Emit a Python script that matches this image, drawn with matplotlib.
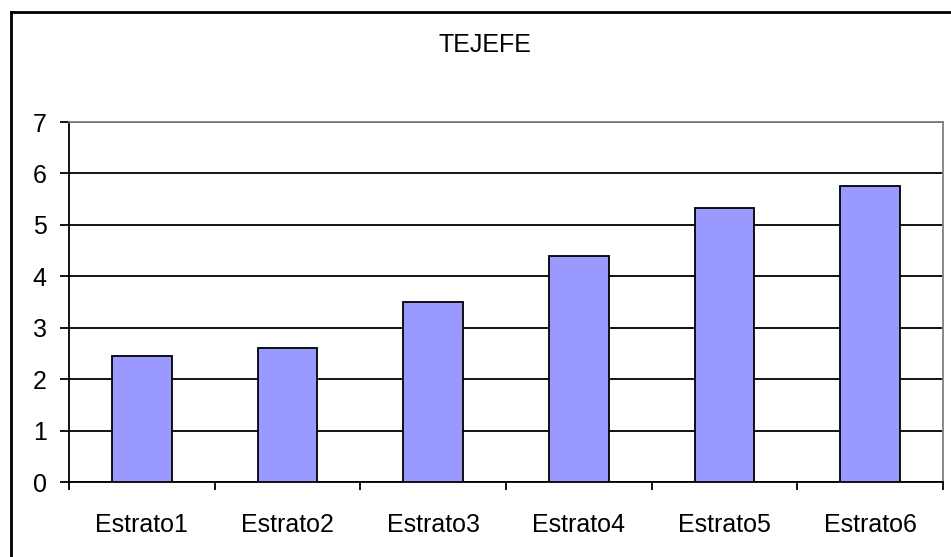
import matplotlib
matplotlib.use('Agg')
import matplotlib.pyplot as plt
from matplotlib.lines import Line2D
from matplotlib.ticker import FixedLocator, NullFormatter

# 데이터
categories = ["Estrato1", "Estrato2", "Estrato3", "Estrato4", "Estrato5", "Estrato6"]
values = [2.45, 2.60, 3.50, 4.40, 5.33, 5.76]
yticks = [0, 1, 2, 3, 4, 5, 6, 7]
title = "TEJEFE"

plt.rcParams['font.family'] = ['Liberation Sans', 'DejaVu Sans']

fig = plt.figure(figsize=(9.51, 5.57), dpi=100)
ax = fig.add_axes([69 / 951, 75 / 557, 874 / 951, 360 / 557])

x = list(range(len(categories)))
ax.bar(x, values, width=0.41, color='#9999FF', edgecolor='black', linewidth=1.3, zorder=3)

ax.set_xlim(-0.5, len(categories) - 0.5)
ax.set_ylim(0, 7)

# 눈금선
ax.set_yticks(yticks)
ax.yaxis.grid(True, color='black', linewidth=1.3, zorder=1)
ax.tick_params(axis='y', length=6.5, width=1.3, pad=9.5, labelsize=18, color='black')

# x 눈금: 경계에 눈금, 가운데에 라벨
ax.xaxis.set_major_locator(FixedLocator([i - 0.5 for i in range(len(categories) + 1)]))
ax.xaxis.set_major_formatter(NullFormatter())
ax.xaxis.set_minor_locator(FixedLocator(x))
ax.set_xticklabels(categories, minor=True)
ax.tick_params(axis='x', which='major', length=6, width=1.3, color='black')
ax.tick_params(axis='x', which='minor', length=0, pad=22, labelsize=18)

for side in ['left', 'bottom']:
    ax.spines[side].set_color('black')
    ax.spines[side].set_linewidth(1.3)
for side in ['top', 'right']:
    ax.spines[side].set_color('#808080')
    ax.spines[side].set_linewidth(1.3)

fig.text(485 / 951, 1 - 45 / 557, title, ha='center', va='center', fontsize=18)

# 바깥 테두리 (왼쪽, 위쪽)
fig.add_artist(Line2D([10.5 / 951, 10.5 / 951], [0, 1 - 11.5 / 557], color='black', linewidth=2))
fig.add_artist(Line2D([10.5 / 951, 1], [1 - 11.5 / 557, 1 - 11.5 / 557], color='black', linewidth=2))

fig.savefig('out.png', dpi=100)
